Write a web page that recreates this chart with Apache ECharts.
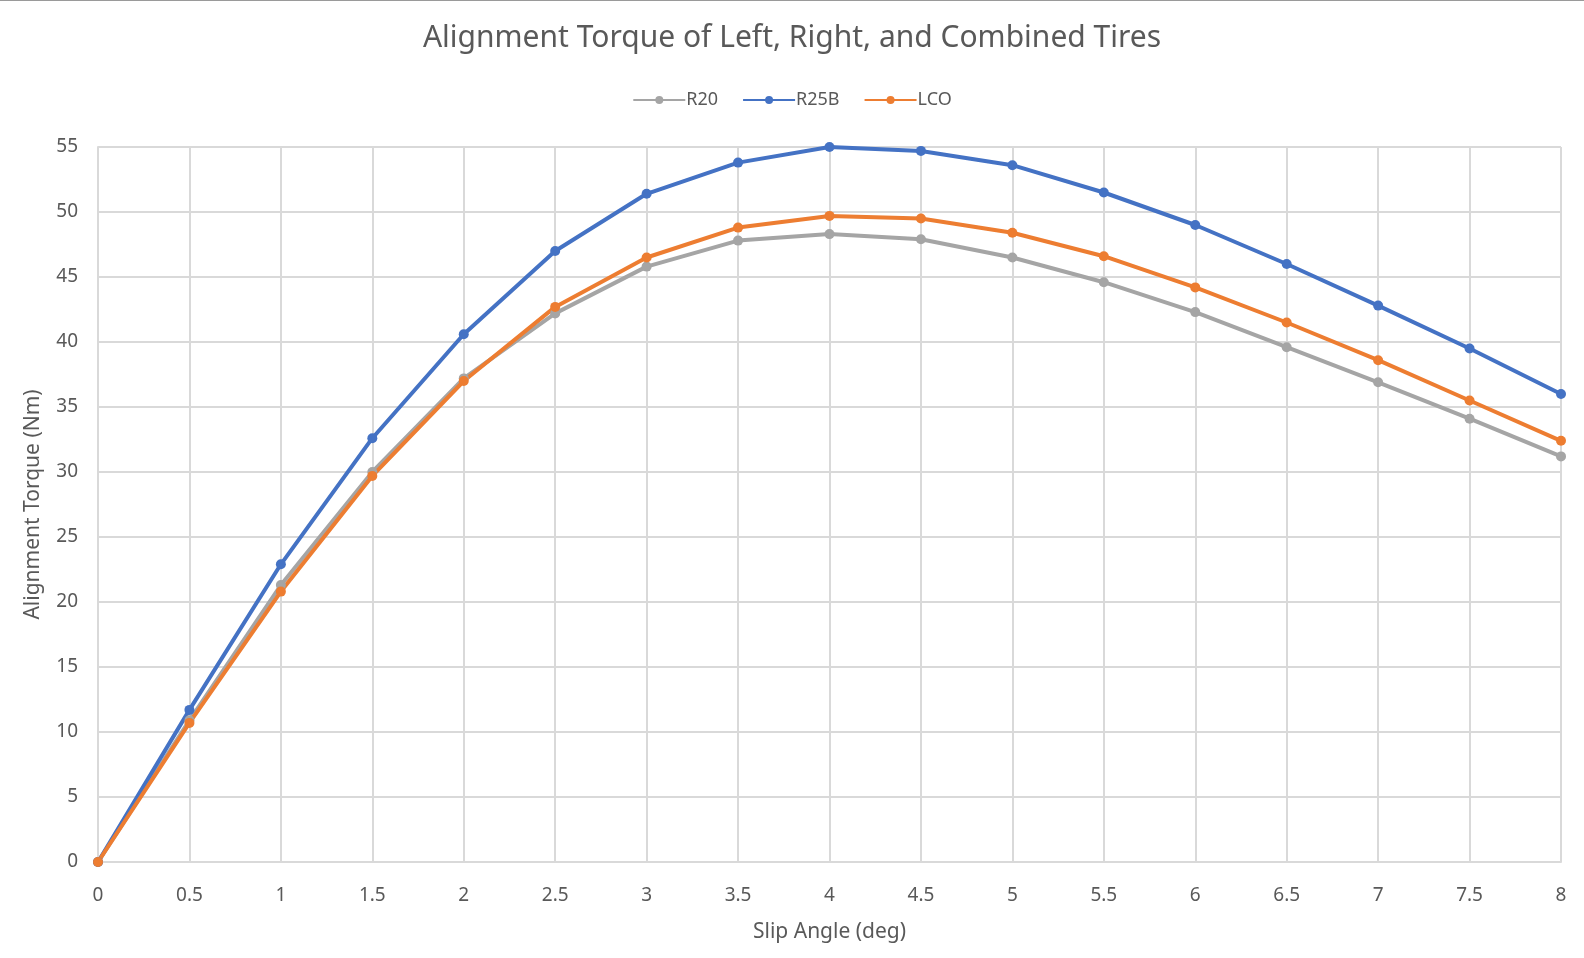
<!DOCTYPE html>
<html>
<head>
<meta charset="utf-8">
<title>Alignment Torque</title>
<script src="https://cdn.jsdelivr.net/npm/echarts@6/dist/echarts.min.js"></script>
<style>
  html, body { margin: 0; padding: 0; background: #fff; }
  #chart { width: 1584px; height: 958px; box-sizing: border-box; border-top: 1px solid #9a9a9a; }
</style>
</head>
<body>
<div id="chart"></div>
<script>
  // slip angle (deg)
  var slipAngles = [0, 0.5, 1, 1.5, 2, 2.5, 3, 3.5, 4, 4.5, 5, 5.5, 6, 6.5, 7, 7.5, 8];
  // alignment torque (Nm)
  var r20 = [0, 10.9, 21.3, 30.0, 37.2, 42.2, 45.8, 47.8, 48.3, 47.9, 46.5, 44.6, 42.3, 39.6, 36.9, 34.1, 31.2];
  var r25b = [0, 11.7, 22.9, 32.6, 40.6, 47.0, 51.4, 53.8, 55.0, 54.7, 53.6, 51.5, 49.0, 46.0, 42.8, 39.5, 36.0];
  var lco = [0, 10.7, 20.8, 29.7, 37.0, 42.7, 46.5, 48.8, 49.7, 49.5, 48.4, 46.6, 44.2, 41.5, 38.6, 35.5, 32.4];

  var seriesNames = ['R20', 'R25B', 'LCO'];
  var seriesColors = ['#A5A5A5', '#4472C4', '#ED7D31'];
  var seriesData = [r20, r25b, lco];

  var font = '"Noto Sans", "Open Sans", sans-serif';

  function pairs(values) {
    return slipAngles.map(function (x, i) { return [x, values[i]]; });
  }

  var chart = echarts.init(document.getElementById('chart'));

  var option = {
    animation: false,
    textStyle: { fontFamily: font },
    title: {
      text: 'Alignment Torque of Left, Right, and Combined Tires',
      left: 'center',
      top: 17,
      textStyle: { color: '#595959', fontSize: 30, fontWeight: 'normal', fontFamily: font }
    },
    legend: {
      data: seriesNames,
      top: 85,
      left: 'center',
      itemWidth: 52,
      itemHeight: 10,
      itemGap: 24,
      textStyle: { color: '#595959', fontSize: 18, padding: [0, 0, 0, -4] }
    },
    grid: { left: 98, right: 23, top: 146, bottom: 96 },
    xAxis: {
      type: 'value',
      min: 0,
      max: 8,
      interval: 0.5,
      name: 'Slip Angle (deg)',
      nameLocation: 'middle',
      nameGap: 60,
      nameTextStyle: { color: '#595959', fontSize: 21 },
      axisLine: { show: true, lineStyle: { color: '#D9D9D9', width: 2 } },
      axisTick: { show: false },
      axisLabel: { color: '#595959', fontSize: 19, margin: 24 },
      splitLine: { show: true, lineStyle: { color: '#D9D9D9', width: 2 } }
    },
    yAxis: {
      type: 'value',
      min: 0,
      max: 55,
      interval: 5,
      name: 'Alignment Torque (Nm)',
      nameLocation: 'middle',
      nameGap: 54,
      nameTextStyle: { color: '#595959', fontSize: 21 },
      axisLine: { show: true, lineStyle: { color: '#D9D9D9', width: 2 } },
      axisTick: { show: false },
      axisLabel: { color: '#595959', fontSize: 19, margin: 20 },
      splitLine: { show: true, lineStyle: { color: '#D9D9D9', width: 2 } }
    },
    series: seriesNames.map(function (name, i) {
      return {
        name: name,
        type: 'line',
        data: pairs(seriesData[i]),
        symbol: 'circle',
        symbolSize: 10,
        itemStyle: { color: seriesColors[i] },
        lineStyle: { color: seriesColors[i], width: 4 }
      };
    })
  };

  chart.setOption(option);
  window.addEventListener('resize', function () {
    chart.resize();
  });
</script>
</body>
</html>
